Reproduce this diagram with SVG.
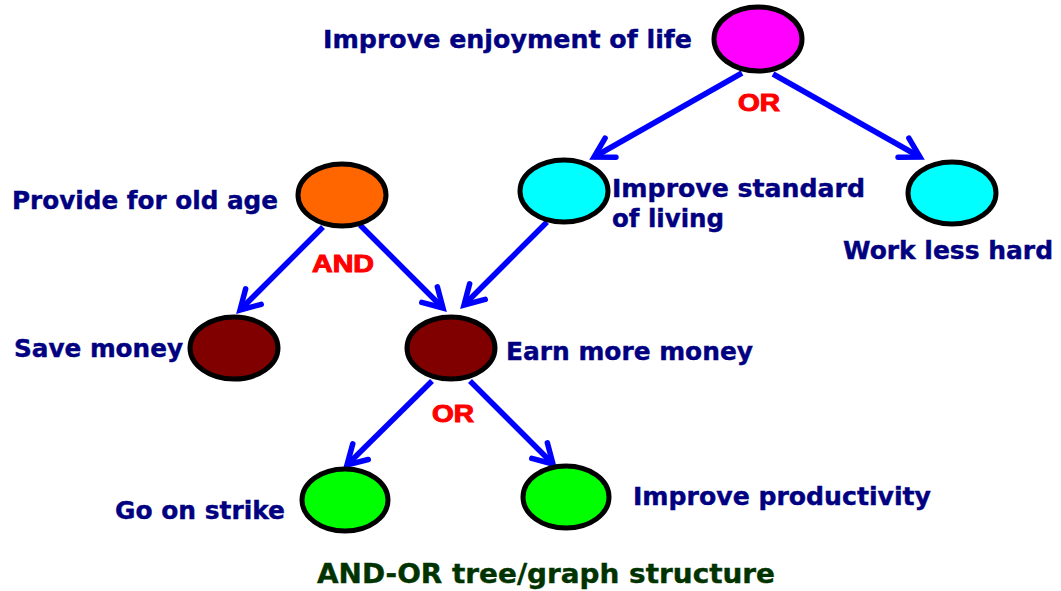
<svg xmlns="http://www.w3.org/2000/svg" width="1061" height="591" viewBox="0 0 1061 591">
<defs>
<style>
.n{stroke:#000;stroke-width:5}
.lbl{font-family:"DejaVu Sans","Verdana",sans-serif;font-weight:bold;font-size:24px;fill:#000080;stroke:#000080;stroke-width:0.4}
.op{font-family:"Liberation Sans",Arial,sans-serif;font-weight:900;font-size:23px;fill:#ff0000;stroke:#ff0000;stroke-width:1}
.ttl{font-family:"DejaVu Sans","Verdana",sans-serif;font-weight:bold;font-size:27px;fill:#003300;stroke:#003300;stroke-width:0.4}
.e{stroke:#0000ff;stroke-width:5.5;fill:none;marker-end:url(#ah)}
</style>
<marker id="ah" markerUnits="userSpaceOnUse" markerWidth="40" markerHeight="40" viewBox="-25 -20 30 40" refX="0" refY="0" orient="auto">
<path d="M-19,-11 L0,0 L-19,11" fill="none" stroke="#0000ff" stroke-width="5.5" stroke-linecap="round" stroke-linejoin="miter"/>
</marker>
</defs>
<rect width="1061" height="591" fill="#fff"/>
<g id="connectors">
<line class="e" x1="742" y1="73" x2="594" y2="157"/>
<line class="e" x1="773" y1="74" x2="920" y2="157"/>
<line class="e" x1="323" y1="227" x2="240" y2="310"/>
<line class="e" x1="360" y1="225" x2="443" y2="308"/>
<line class="e" x1="547" y1="222" x2="464" y2="305"/>
<line class="e" x1="432" y1="381" x2="347" y2="465"/>
<line class="e" x1="470" y1="381" x2="553" y2="464"/>
</g>
<g id="n-enjoy"><ellipse class="n" cx="758" cy="39" rx="44" ry="32" fill="#ff00ff"/><text class="lbl" x="323" y="48" textLength="369" lengthAdjust="spacingAndGlyphs">Improve enjoyment of life</text></g>
<g id="n-standard"><ellipse class="n" cx="564" cy="191" rx="44" ry="31" fill="#00ffff"/><text class="lbl" x="612" y="197" textLength="253" lengthAdjust="spacingAndGlyphs">Improve standard</text><text class="lbl" x="612" y="227" textLength="112" lengthAdjust="spacingAndGlyphs">of living</text></g>
<g id="n-work"><ellipse class="n" cx="952" cy="193" rx="44" ry="31" fill="#00ffff"/><text class="lbl" x="843" y="259" textLength="210" lengthAdjust="spacingAndGlyphs">Work less hard</text></g>
<g id="n-oldage"><ellipse class="n" cx="342" cy="195" rx="44" ry="31" fill="#ff6600"/><text class="lbl" x="12" y="209" textLength="266" lengthAdjust="spacingAndGlyphs">Provide for old age</text></g>
<g id="n-save"><ellipse class="n" cx="234" cy="348" rx="44" ry="31" fill="#800000"/><text class="lbl" x="14" y="357" textLength="169" lengthAdjust="spacingAndGlyphs">Save money</text></g>
<g id="n-earn"><ellipse class="n" cx="451" cy="348" rx="44" ry="31" fill="#800000"/><text class="lbl" x="506" y="360" textLength="247" lengthAdjust="spacingAndGlyphs">Earn more money</text></g>
<g id="n-strike"><ellipse class="n" cx="345" cy="500" rx="43" ry="31" fill="#00ff00"/><text class="lbl" x="115" y="519" textLength="170" lengthAdjust="spacingAndGlyphs">Go on strike</text></g>
<g id="n-prod"><ellipse class="n" cx="566" cy="497" rx="43" ry="31" fill="#00ff00"/><text class="lbl" x="633" y="505" textLength="298" lengthAdjust="spacingAndGlyphs">Improve productivity</text></g>
<g id="ops">
<text class="op" x="738" y="111" textLength="42" lengthAdjust="spacingAndGlyphs">OR</text>
<text class="op" x="312" y="272" textLength="62" lengthAdjust="spacingAndGlyphs">AND</text>
<text class="op" x="432" y="422" textLength="42" lengthAdjust="spacingAndGlyphs">OR</text>
</g>
<text class="ttl" x="317" y="583" textLength="458" lengthAdjust="spacingAndGlyphs">AND-OR tree/graph structure</text>
</svg>
